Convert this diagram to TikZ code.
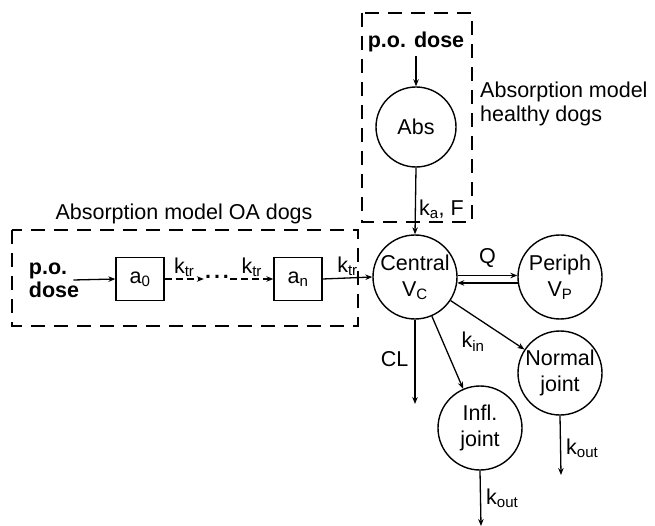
\documentclass[tikz,border=0pt]{standalone}
\usepackage{fontspec}
\setmainfont{Liberation Sans}
\usetikzlibrary{arrows.meta}

\begin{document}
\begin{tikzpicture}[x=1pt,y=-1pt,
  font=\fontsize{21.5}{26}\selectfont,
  comp/.style={circle, draw, line width=1.4pt, minimum size=84pt, inner sep=0pt, align=center},
  boxc/.style={draw, line width=1.3pt, minimum width=48pt, minimum height=43pt, inner sep=0pt},
  flow/.style={line width=1.3pt, -{Stealth[length=7pt,width=5.5pt]}},
  dflow/.style={flow, dash pattern=on 7pt off 4pt},
  group/.style={draw, line width=2.8pt, dash pattern=on 14pt off 9pt},
  lbl/.style={inner sep=1pt},
  dosetxt/.style={font=\fontsize{21.5}{23}\selectfont\bfseries, inner sep=0pt, align=left}
]
\useasboundingbox (0,0) rectangle (655,526);

% absorption groups
\draw[group] (362,13) rectangle (472,222);
\draw[group] (12,230) rectangle (358,326);
\node[lbl] (capOA) at (184,214) {Absorption model OA dogs};
\node[lbl, anchor=west, align=left, font=\fontsize{21.5}{24}\selectfont] (capH) at (479,104) {Absorption model\\healthy dogs};

% compartments
\node[comp, minimum size=80pt] (abs) at (416,127) {Abs};
\node[comp] (c) at (415,277) {Central\\V\textsubscript{C}};
\node[comp] (p) at (560,277) {Periph\\V\textsubscript{P}};
\node[comp] (n) at (560,373) {Normal\\joint};
\node[comp] (i) at (480,428) {Infl.\\joint};

% transit chain
\node[dosetxt] (doseL) at (54,280) {p.o.\\dose};
\node[boxc] (a0) at (140,279) {a\textsubscript{0}};
\node[boxc] (an) at (298,279) {a\textsubscript{n}};
\node[inner sep=1pt, minimum height=10pt] (dots) at (217,279) {\raisebox{0.3ex}{\textbf{.\hspace{3pt}.\hspace{3pt}.}}};

% oral dose, healthy dogs
\node[dosetxt] (doseH) at (416,42) {p.o. dose};

% sinks
\coordinate (clEnd) at (415,404);
\coordinate (nEnd) at (561,475);
\coordinate (iEnd) at (481,526);

% connectors
\draw[flow] ([xshift=-6pt]doseL.east) -- (a0.west);
\draw[dflow] (a0.east) -- node[lbl, above=1pt] {k\textsubscript{tr}} (dots.west);
\draw[dflow] (dots.east) -- node[lbl, above=1pt] {k\textsubscript{tr}} (an.west);
\draw[flow] (an.east) -- node[lbl, above=1pt] {k\textsubscript{tr}} (c.west);

\draw[flow] ([yshift=-4pt]doseH.south) -- (abs.north);
\draw[flow] (abs.south) -- node[lbl, pos=0.62, right=2pt] {k\textsubscript{a}, F} (c.north);

\draw[flow] (c.2) -- node[lbl, above=6pt] {Q} (p.178);
\draw[flow] (p.-172) -- (c.-8);

\draw[flow] (c.south) -- node[lbl, left=5pt, pos=0.47] {CL} (clEnd);
\draw[flow] (c) -- (i);
\draw[flow] (c) -- (n);
\node[lbl] (kin) at (473,342) {k\textsubscript{in}};

\draw[flow] (n.south) -- node[lbl, right=4pt, pos=0.55] {k\textsubscript{out}} (nEnd);
\draw[flow] (i.south) -- node[lbl, right=4pt, pos=0.5] {k\textsubscript{out}} (iEnd);
\end{tikzpicture}
\end{document}
